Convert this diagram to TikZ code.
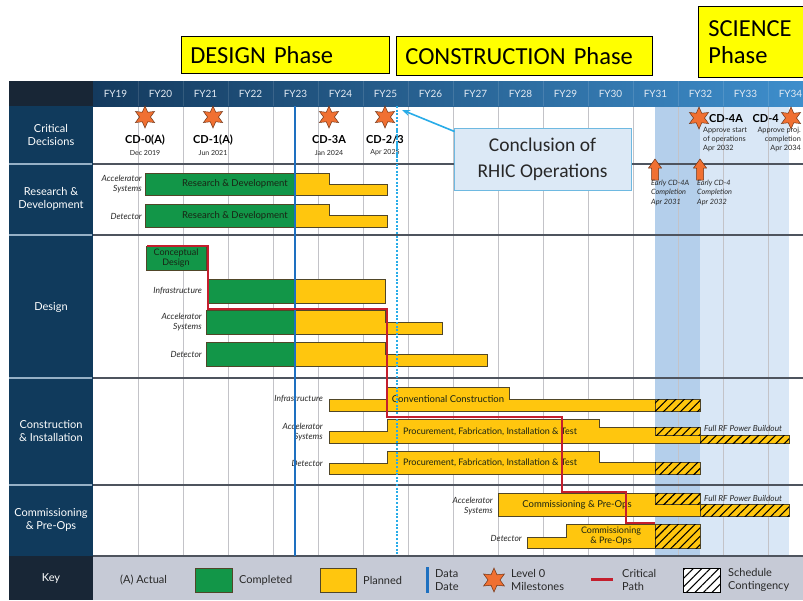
\documentclass[tikz,border=0pt]{standalone}
\usepackage{fontspec}
\setmainfont{Lato}
\newfontfamily\calfont{Carlito}
\usetikzlibrary{shapes.geometric,patterns.meta,arrows.meta}
\definecolor{navy}{RGB}{16,58,92}
\definecolor{corner}{RGB}{24,38,54}
\definecolor{hdrL}{RGB}{20,58,94}
\definecolor{hdrR}{RGB}{62,142,204}
\definecolor{cgreen}{RGB}{18,150,72}
\definecolor{cyellow}{RGB}{255,198,14}
\definecolor{barline}{RGB}{80,70,40}
\definecolor{bandA}{RGB}{180,207,235}
\definecolor{bandB}{RGB}{217,231,246}
\definecolor{ddate}{RGB}{30,112,192}
\definecolor{dotblue}{RGB}{40,172,232}
\definecolor{cpath}{RGB}{196,30,45}
\definecolor{starfill}{RGB}{240,112,50}
\definecolor{starline}{RGB}{110,50,20}
\definecolor{keygray}{RGB}{198,202,214}
\definecolor{rowline}{RGB}{78,84,94}
\definecolor{sepline}{RGB}{150,176,198}
\definecolor{gridc}{RGB}{195,195,200}
\definecolor{txt}{RGB}{40,40,40}
\definecolor{bartext}{RGB}{25,35,20}
\definecolor{boxfill}{RGB}{220,233,246}
\definecolor{boxline}{RGB}{110,185,225}
\definecolor{phaseyel}{RGB}{255,255,0}
\definecolor{fytext}{RGB}{226,234,243}
\begin{document}
\begin{tikzpicture}[x=1pt,y=-1pt,
  bar/.style={draw=barline, line width=0.7pt},
  gbar/.style={bar, fill=cgreen},
  ybar/.style={bar, fill=cyellow},
  hbar/.style={bar, fill=cyellow, postaction={pattern={Lines[angle=45,distance=6pt,line width=1.1pt]}, pattern color=black}},
  rowlab/.style={text=white, align=center, font=\fontsize{11}{13.5}\selectfont},
  fylab/.style={text=fytext, font=\fontsize{10}{12}\selectfont},
  cdlab/.style={font=\bfseries\fontsize{11}{13}\selectfont, text=black, inner sep=0},
  cddate/.style={font=\fontsize{7}{8.5}\selectfont, text=txt, inner sep=0},
  itl/.style={font=\itshape\fontsize{8.5}{9.8}\selectfont, text=txt, align=right, anchor=east, inner sep=0},
  bartxt/.style={font=\fontsize{9.5}{10.5}\selectfont, text=bartext, align=center, inner sep=0},
  mstar/.style={star, star points=6, star point ratio=2, minimum size=22pt, inner sep=0, fill=starfill, draw=starline, line width=0.5pt},
  phase/.style={draw=black, line width=0.8pt, fill=phaseyel, font=\calfont\fontsize{24.5}{27}\selectfont, anchor=north west, align=left},
  keytxt/.style={font=\fontsize{11}{13}\selectfont, text=txt, anchor=west, align=left, inner sep=0},
  smallnote/.style={font=\fontsize{7.3}{9.2}\selectfont, text=txt, inner sep=0},
  uparrow/.style={fill=starfill, draw=starline, line width=0.5pt, line join=miter}
]
\useasboundingbox (0,0) rectangle (803,600);
\fill[white] (0,0) rectangle (803,600);

% phase boxes
\node[phase, minimum width=208pt, minimum height=37pt, text width=190pt, inner xsep=9pt] (pdesign) at (181,36) {DESIGN Phase};
\node[phase, minimum width=256pt, minimum height=39pt, text width=238pt, inner xsep=9pt] (pconstr) at (396,36) {CONSTRUCTION Phase};
\node[phase, minimum width=112pt, minimum height=71pt, text width=92pt, inner xsep=10pt] (pscience) at (698,6) {SCIENCE\\Phase};

% shaded contingency bands
\fill[bandA] (655,106) rectangle (700,556);
\fill[bandB] (700,106) rectangle (789,556);

% grid
\foreach \x in {138,183,...,768} \draw[gridc, line width=0.8pt] (\x,106) -- (\x,556);

% header
\shade[left color=hdrL, right color=hdrR] (93,81) rectangle (803,106);
\fill[corner] (9,81) rectangle (93,106);
\foreach \x in {138,183,...,768} \draw[white, opacity=0.12, line width=0.8pt] (\x,81) -- (\x,106);
\foreach \i in {0,...,15}{
  \pgfmathtruncatemacro\yr{19+\i}
  \node[fylab] (fy\yr) at ({115.5+45*\i},94) {FY\yr};
}

% left column
\fill[navy] (9,106) rectangle (93,556);
\foreach \y in {164,235,378,485} \draw[sepline, line width=1.5pt] (9,\y) -- (92,\y);
\fill[corner] (9,556) rectangle (93,600);
\fill[keygray] (93,556) rectangle (803,600);
\foreach \y in {164,235,378,485,556} \draw[rowline, line width=1.5pt] (93,\y) -- (803,\y);

\node[rowlab] (lcd) at (51,135) {Critical\\Decisions};
\node[rowlab] (lrd) at (51,199) {Research \&\\Development};
\node[rowlab] (lds) at (51,307) {Design};
\node[rowlab] (lci) at (51,431) {Construction\\\& Installation};
\node[rowlab] (lcp) at (51,520) {Commissioning\\\& Pre-Ops};
\node[rowlab] (lkey) at (51,578) {Key};

% R&D bars
\draw[gbar] (145,173) rectangle (295,195);
\draw[ybar] (295,173) -- (329,173) -- (329,184) -- (387,184) -- (387,195) -- (295,195) -- cycle;
\node[bartxt] (rd1) at (235,184) {Research \& Development};
\node[itl] (rdl1) at (142,184) {Accelerator\\Systems};
\draw[gbar] (145,204) rectangle (295,227);
\draw[ybar] (295,204) -- (329,204) -- (329,215) -- (387,215) -- (387,227) -- (295,227) -- cycle;
\node[bartxt] (rd2) at (235,216) {Research \& Development};
\node[itl] (rdl2) at (142,216) {Detector};

% Design bars
\draw[gbar] (146,246) rectangle (206,270);
\node[bartxt, font=\fontsize{9}{9.5}\selectfont] (cdes) at (176,258) {Conceptual\\Design};
\draw[gbar] (208,279) rectangle (295,303);
\draw[ybar] (295,279) rectangle (385,303);
\node[itl] (dsl1) at (202,291) {Infrastructure};
\draw[gbar] (206,310) rectangle (295,334);
\draw[ybar] (295,310) -- (385,310) -- (385,322) -- (442,322) -- (442,334) -- (295,334) -- cycle;
\node[itl] (dsl2) at (202,322) {Accelerator\\Systems};
\draw[gbar] (206,342) rectangle (295,366);
\draw[ybar] (295,342) -- (385,342) -- (385,354) -- (487,354) -- (487,366) -- (295,366) -- cycle;
\node[itl] (dsl3) at (202,354) {Detector};

% Construction bars
\draw[ybar] (329,399) -- (387,399) -- (387,387) -- (509,387) -- (509,399) -- (655,399) -- (655,411) -- (329,411) -- cycle;
\draw[hbar] (655,399) rectangle (700,411);
\node[bartxt] (cc) at (448,399) {Conventional Construction};
\node[itl] (cil1) at (323,399) {Infrastructure};

\draw[ybar] (329,431) -- (387,431) -- (387,419) -- (599,419) -- (599,427) -- (655,427) -- (655,435) -- (700,435) -- (700,443) -- (329,443) -- cycle;
\draw[hbar] (655,427) rectangle (700,435);
\draw[hbar] (700,435) rectangle (789,443);
\node[bartxt, font=\fontsize{9}{10}\selectfont] (pf1) at (490,432) {Procurement, Fabrication, Installation \& Test};
\node[itl] (cil2) at (323,432) {Accelerator\\Systems};
\node[itl, anchor=west, font=\itshape\fontsize{8.3}{9.5}\selectfont] (rf1) at (704,428) {Full RF Power Buildout};

\draw[ybar] (329,463) -- (387,463) -- (387,451) -- (599,451) -- (599,462) -- (655,462) -- (655,474) -- (329,474) -- cycle;
\draw[hbar] (655,462) rectangle (700,474);
\node[bartxt, font=\fontsize{9}{10}\selectfont] (pf2) at (490,463) {Procurement, Fabrication, Installation \& Test};
\node[itl] (cil3) at (323,463) {Detector};

% Commissioning bars
\draw[ybar] (498,493) -- (655,493) -- (655,504) -- (700,504) -- (700,516) -- (498,516) -- cycle;
\draw[hbar] (655,493) rectangle (700,504);
\draw[hbar] (700,504) rectangle (789,516);
\node[bartxt] (cp1) at (577,505) {Commissioning \& Pre-Ops};
\node[itl] (cpl1) at (493,506) {Accelerator\\Systems};
\node[itl, anchor=west, font=\itshape\fontsize{8.3}{9.5}\selectfont] (rf2) at (704,498) {Full RF Power Buildout};

\draw[ybar] (527,537) -- (566,537) -- (566,524) -- (655,524) -- (655,548) -- (527,548) -- cycle;
\draw[hbar] (655,524) rectangle (700,548);
\node[bartxt, font=\fontsize{9}{10}\selectfont] (cp2) at (611,536) {Commissioning\\\& Pre-Ops};
\node[itl] (cpl2) at (522,538) {Detector};

% data date and RHIC end lines
\draw[ddate, line width=2.5pt] (295,106) -- (295,556);
\draw[dotblue, line width=2.5pt, dash pattern=on 2pt off 1.6pt] (397,106) -- (397,556);

% critical path
\draw[cpath, line width=2.4pt, line join=miter] (147,246) -- (208,246) -- (208,309) -- (387,309) -- (387,417) -- (562,417) -- (562,492) -- (626,492) -- (626,523) -- (655,523);

% critical decisions
\node[mstar] (s0) at (145,117) {};
\node[cdlab] (cd0) at (145,140) {CD-0(A)};
\node[cddate] (cd0d) at (145,153) {Dec 2019};
\node[mstar] (s1) at (213,117) {};
\node[cdlab] (cd1) at (213,140) {CD-1(A)};
\node[cddate] (cd1d) at (213,153) {Jun 2021};
\node[mstar] (s3) at (329,117) {};
\node[cdlab] (cd3) at (329,140) {CD-3A};
\node[cddate] (cd3d) at (329,153) {Jan 2024};
\node[mstar] (s23) at (385,117) {};
\node[cdlab] (cd23) at (385,140) {CD-2/3};
\node[cddate] (cd23d) at (385,153) {Apr 2025};
\draw[dotblue, line width=2.5pt, dash pattern=on 2pt off 1.6pt] (397,130) -- (397,160);

\node[mstar] (s4a) at (699,118) {};
\node[cdlab, anchor=west] (cd4a) at (709,119) {CD-4A};
\node[smallnote, anchor=north west, align=left] (cd4an) at (703,127) {Approve start\\of operations\\Apr 2032};
\node[mstar] (s4) at (791,118) {};
\node[cdlab, anchor=east] (cd4) at (779,119) {CD-4};
\node[smallnote, anchor=north east, align=right] (cd4n) at (801,127) {Approve proj.\\completion\\Apr 2034};

% early completion arrows
\draw[uparrow] (655,159) -- (661.5,168) -- (658.5,168) -- (658.5,180) -- (651.5,180) -- (651.5,168) -- (648.5,168) -- cycle;
\draw[uparrow] (700,159) -- (706.5,168) -- (703.5,168) -- (703.5,180) -- (696.5,180) -- (696.5,168) -- (693.5,168) -- cycle;
\node[smallnote, font=\itshape\fontsize{7.3}{9.3}\selectfont, anchor=north west, align=left] (ea1t) at (651,180) {Early CD-4A\\Completion\\Apr 2031};
\node[smallnote, font=\itshape\fontsize{7.3}{9.3}\selectfont, anchor=north west, align=left] (ea2t) at (697,180) {Early CD-4\\Completion\\Apr 2032};

% RHIC box
\node[draw=boxline, fill=boxfill, line width=1pt, minimum width=177pt, minimum height=62pt, align=center, font=\calfont\fontsize{19.5}{26}\selectfont, text=txt] (rhic) at (542.5,159) {Conclusion of\\RHIC Operations};
\coordinate (rhictip) at (402,110);
\draw[dotblue, line width=1.6pt, -{Stealth[length=8pt,width=6pt]}] ([xshift=1pt,yshift=-4pt]rhic.north west) -- (rhictip);

% key
\node[keytxt] (kact) at (120,580) {(A) Actual};
\draw[gbar] (195,568) rectangle (232,592);
\node[keytxt] (kcomp) at (239,580) {Completed};
\draw[ybar] (320,568) rectangle (356,592);
\node[keytxt] (kplan) at (363,580) {Planned};
\draw[ddate, line width=3pt] (427,567) -- (427,593);
\node[keytxt] (kdd) at (435,580) {Data\\Date};
\node[mstar, minimum size=24pt] (kstar) at (494,580) {};
\node[keytxt] (kms) at (511,580) {Level 0\\Milestones};
\draw[cpath, line width=3pt] (591,579) -- (613,579);
\node[keytxt] (kcp) at (622,580) {Critical\\Path};
\draw[draw=black, line width=0.8pt, fill=white, postaction={pattern={Lines[angle=45,distance=6pt,line width=1.1pt]}, pattern color=black}] (683,568) rectangle (720,592);
\node[keytxt] (ksc) at (728,580) {Schedule\\Contingency};
\end{tikzpicture}
\end{document}
